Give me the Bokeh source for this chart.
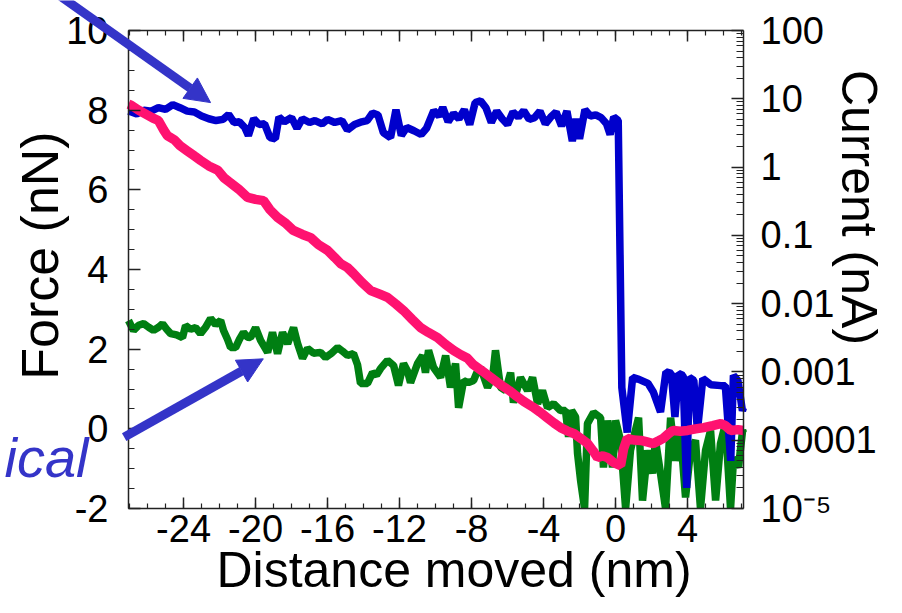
import math
from bokeh.plotting import figure
from bokeh.models import (Range1d, LogScale, LinearAxis, LogAxis, FixedTicker, Arrow,
                          NormalHead, Label, CustomJSTickFormatter)
from bokeh.embed import file_html
from bokeh.resources import INLINE

# ---------------- data ----------------
x_ticks = [-24, -20, -16, -12, -8, -4, 0, 4]
x_labels = ["-24", "-20", "-16", "-12", "-8", "-4", "0", "4"]
force_ticks = [-2, 0, 2, 4, 6, 8, 10]
force_labels = ["-2", "0", "2", "4", "6", "8", "10"]
cur_ticks = [1e-5, 1e-4, 1e-3, 1e-2, 1e-1, 1, 10, 100]
cur_labels = ["10\u207b\u2075", "0.0001", "0.001", "0.01", "0.1", "1", "10", "100"]

# plotted box (data limits of the framed area)
X_MIN, X_MAX = -27.06, 7.11
F_MIN, F_MAX = -2.0, 10.0
C_MIN, C_MAX = 1e-5, 100.0

# current (nA), blue, right log axis
blue_x = [-27.06, -26.9, -26.6, -26.2, -25.8, -25.4, -25.0, -24.6, -24.2, -23.8, -23.4, -23.0,
          -22.6, -22.2, -21.8, -21.5, -21.2, -20.9, -20.6, -20.4, -20.1, -19.8, -19.5, -19.2,
          -18.9, -18.7, -18.4, -18.0, -17.7, -17.4, -17.0, -16.7, -16.3, -16.0, -15.6, -15.2,
          -14.9, -14.5, -14.1, -13.8, -13.5, -13.2, -12.9, -12.5, -12.2, -11.9, -11.6, -11.2,
          -10.8, -10.5, -10.1, -9.8, -9.6, -9.3, -9.0, -8.7, -8.4, -8.1, -7.8, -7.5, -7.2,
          -6.9, -6.6, -6.3, -6.0, -5.7, -5.4, -5.1, -4.8, -4.5, -4.2, -3.9, -3.6, -3.3, -3.0,
          -2.7, -2.4, -2.2, -2.0, -1.7, -1.4, -1.1, -0.8, -0.5, -0.3, -0.1, 0.15,
          0.35, 0.65, 0.95, 1.3, 1.8, 2.1, 2.5, 2.8, 3.1, 3.3, 3.5, 3.75, 3.95, 4.1, 4.35,
          4.55, 4.85, 5.3, 5.85, 6.1, 6.4, 6.55, 6.8, 7.05, 7.11]
blue_y = [6.6, 6.4, 6.0, 6.8, 6.6, 7.4, 7.0, 8.2, 7.4, 6.6, 6.4, 5.6,
          5.1, 4.8, 5.0, 5.9, 4.5, 4.6, 3.8, 2.9, 5.1, 4.2, 4.3, 2.7,
          2.6, 5.4, 4.6, 5.3, 3.7, 5.1, 4.5, 4.8, 4.3, 5.0, 4.5, 4.8,
          3.5, 4.2, 4.6, 4.8, 6.2, 5.8, 3.2, 2.7, 6.9, 2.9, 3.8, 3.4,
          3.0, 3.7, 6.7, 5.6, 7.5, 4.6, 6.1, 5.1, 6.9, 4.2, 8.8, 9.3, 7.4,
          4.5, 6.6, 5.1, 4.2, 6.4, 5.4, 6.7, 5.0, 5.3, 6.6, 4.3, 5.4, 6.4, 4.0,
          6.6, 2.4, 5.1, 2.6, 6.9, 5.6, 5.8, 5.3, 4.3, 3.0, 5.4, 4.8,
          5.9e-4, 1.3e-4, 8.3e-4, 7.8e-4, 6.8e-4, 5.1e-4, 2.6e-4, 1.0e-3, 9.5e-4, 2.2e-4,
          9.5e-4, 8.9e-4, 2.0e-5, 8.3e-4, 7.5e-4, 1.4e-4, 8.0e-4, 6.5e-4, 6.3e-4, 6.3e-4,
          5.0e-5, 8.9e-4, 7.5e-4, 2.7e-4, 3.0e-4]

# normal force (nN), pink
pink_x = [-27.06, -26.9, -26.5, -26.1, -25.7, -25.4, -25.1, -24.9, -24.5, -24.2, -23.8, -23.4,
          -23.06, -22.6, -22.1, -21.75, -21.4, -20.9, -20.44, -20.0, -19.56, -19.2, -18.78,
          -18.3, -17.9, -17.4, -16.94, -16.5, -16.0, -15.6, -15.28, -14.9, -14.56, -14.1,
          -13.6, -13.1, -12.67, -12.2, -11.78, -11.3, -10.83, -10.4, -9.89, -9.45, -9.0,
          -8.6, -8.22, -7.9, -7.4, -6.9, -6.4, -5.9, -5.5, -5.1, -4.6, -4.2, -3.8, -3.4,
          -3.05, -2.7, -2.3, -1.9, -1.55, -1.25, -1.0, -0.7, -0.45, -0.1, 0.28, 0.45, 0.65,
          1.0, 1.4, 1.75, 2.1, 2.4, 2.65, 2.95, 3.2, 3.6, 4.0, 4.45, 4.9, 5.4, 5.85, 6.1,
          6.4, 6.8, 7.11]
pink_y = [8.15, 8.12, 8.0, 7.9, 7.8, 7.74, 7.5, 7.36, 7.25, 7.11, 6.98, 6.85,
          6.74, 6.6, 6.49, 6.3, 6.18, 6.0, 5.81, 5.76, 5.73, 5.5, 5.31,
          5.15, 4.98, 4.88, 4.80, 4.62, 4.48, 4.3, 4.15, 4.05, 3.90, 3.68,
          3.47, 3.38, 3.30, 3.13, 2.97, 2.75, 2.54, 2.42, 2.29, 2.12, 1.97,
          1.86, 1.77, 1.61, 1.45, 1.28, 1.11, 0.96, 0.82, 0.69, 0.55, 0.42, 0.28, 0.14,
          0.03, -0.05, -0.12, -0.25, -0.37, -0.55, -0.72, -0.68, -0.72, -0.85, -0.92, -0.5, -0.24,
          -0.28, -0.29, -0.33, -0.37, -0.3, -0.24, -0.12, -0.04, -0.06, -0.04, 0.0, 0.03, 0.08, 0.13, 0.08,
          -0.04, -0.02, -0.04]

# lateral force (nN), green (values below the axis floor are read as the floor, -2)
green_x = [-27.06, -26.78, -26.5, -26.22, -25.94, -25.67, -25.39, -25.17, -24.94, -24.72, -24.39,
           -24.06, -23.89, -23.61, -23.33, -23.06, -22.78, -22.5, -22.22, -21.94, -21.78, -21.56,
           -21.39, -21.11, -20.89, -20.67, -20.44, -20.28, -20.0, -19.72, -19.5, -19.33, -19.06,
           -18.78, -18.5, -18.22, -17.89, -17.67, -17.39, -17.11, -16.78, -16.39, -16.11, -15.78,
           -15.44, -15.17, -14.89, -14.56, -14.33, -14.17, -13.78, -13.5, -13.28, -13.06, -12.67,
           -12.33, -12.06, -11.78, -11.56, -11.39, -11.0, -10.72, -10.56, -10.39, -10.11, -9.72,
           -9.44, -9.17, -8.89, -8.72, -8.44, -8.17, -7.89, -7.72, -7.5, -7.11, -6.83, -6.67,
           -6.39, -6.11, -5.83, -5.67, -5.28, -4.89, -4.61, -4.33, -4.06, -3.78, -3.44, -3.06,
           -2.78, -2.61, -2.44, -2.22, -2.11, -1.94, -1.72, -1.56, -1.22, -0.83, -0.67, -0.44,
           -0.17, 0.0, 0.28, 0.56, 0.83, 1.28, 1.5, 1.78, 2.06, 2.22, 2.5, 2.78, 3.06, 3.33,
           3.61, 3.89, 4.17, 4.44, 4.72, 5.0, 5.28, 5.56, 5.83, 6.11, 6.39, 6.56, 6.83, 7.06, 7.11]
green_y = [2.72, 2.47, 2.60, 2.64, 2.55, 2.47, 2.55, 2.64, 2.50, 2.39, 2.36,
           2.29, 2.59, 2.50, 2.54, 2.39, 2.55, 2.77, 2.62, 2.72, 2.47, 2.25,
           2.04, 2.04, 2.25, 2.42, 2.30, 2.29, 2.54, 2.22, 2.05, 1.92, 2.42,
           1.89, 2.42, 2.14, 2.54, 2.15, 1.77, 2.02, 1.90, 1.92, 1.79, 1.90,
           2.04, 1.95, 1.84, 1.89, 1.60, 1.14, 1.14, 1.41, 1.35, 1.51, 1.72,
           1.59, 1.09, 1.64, 1.45, 1.16, 1.64, 1.84, 1.41, 1.97, 1.54, 1.29,
           1.84, 1.04, 1.64, 0.53, 1.21, 1.16, 1.21, 1.40, 1.54, 1.04, 1.29, 1.97,
           1.04, 0.96, 1.41, 0.66, 1.29, 0.96, 1.29, 0.63, 0.96, 0.53, 0.63, 0.46,
           0.46, -0.2, 0.46, 0.3, -0.62, -1.3, -2.0, 0.13, 0.41, 0.28, -0.97, 0.21,
           -0.97, 0.21, -0.29, -2.0, -0.54, 0.28, -1.8, -0.54, -1.12, -0.29, -1.12, -2.0, 0.28, -0.8,
           -0.12, -1.72, -0.54, -0.29, -2.0, -0.54, -0.04, -1.8, -0.37, 0.13, -2.0, -0.72, -0.97, -0.04, -0.1]

# ---------------- figure ----------------
FONT = "Liberation Sans"
ARROW = "#3434C8"
W, H = 886, 597
BOX_L, BOX_R, BOX_T, BOX_B = 128, 743, 30, 508   # framed area inside the canvas (px)

sx = (BOX_R - BOX_L) / (X_MAX - X_MIN)
sf = (BOX_B - BOX_T) / (F_MAX - F_MIN)
sc = (BOX_B - BOX_T) / (math.log10(C_MAX) - math.log10(C_MIN))
x_rng = Range1d(X_MIN - BOX_L / sx, X_MAX + (W - BOX_R) / sx)
f_rng = Range1d(F_MIN - (H - BOX_B) / sf, F_MAX + BOX_T / sf)
c_rng = Range1d(10 ** (math.log10(C_MIN) - (H - BOX_B) / sc), 10 ** (math.log10(C_MAX) + BOX_T / sc))

p = figure(width=W, height=H, output_backend="svg", toolbar_location=None,
           x_range=x_rng, y_range=f_rng, x_axis_location=None, y_axis_location=None,
           min_border=0)
p.extra_y_ranges = {"cur": c_rng}
p.extra_y_scales = {"cur": LogScale()}
p.grid.visible = False
p.outline_line_color = None
p.background_fill_color = "white"
p.border_fill_color = "white"

x_minor = list(range(-27, 8))
f_minor = [v / 2 for v in range(-4, 21)]
c_minor = [k * 10.0 ** e for e in range(-5, 2) for k in range(2, 10)]


def style(ax, tick_in, minor_in):
    ax.major_tick_in = tick_in
    ax.major_tick_out = 0
    ax.minor_tick_in = minor_in
    ax.minor_tick_out = 0
    ax.axis_line_color = "#222222"
    ax.axis_line_width = 1.5
    ax.major_tick_line_color = "#222222"
    ax.minor_tick_line_color = "#222222"
    ax.major_tick_line_width = 1.5
    ax.minor_tick_line_width = 1.2
    ax.major_label_text_font = FONT
    ax.major_label_text_font_size = "38px"
    ax.major_label_text_color = "black"


xa = LinearAxis(ticker=FixedTicker(ticks=x_ticks, minor_ticks=x_minor),
                major_label_overrides=dict(zip(x_ticks, x_labels)),
                fixed_location=F_MIN, bounds=(X_MIN, X_MAX))
style(xa, 11, 5)
xa.major_label_standoff = 6
p.add_layout(xa, "below")

ta = LinearAxis(ticker=FixedTicker(ticks=x_ticks, minor_ticks=x_minor),
                formatter=CustomJSTickFormatter(code="return ''"),
                fixed_location=F_MAX, bounds=(X_MIN, X_MAX))
style(ta, 11, 5)
ta.major_label_text_font_size = "0px"
ta.major_label_standoff = 0
p.add_layout(ta, "above")

ya = LinearAxis(ticker=FixedTicker(ticks=force_ticks, minor_ticks=f_minor),
                major_label_overrides=dict(zip(force_ticks, force_labels)),
                fixed_location=X_MIN, bounds=(F_MIN, F_MAX))
style(ya, 12, 6)
ya.major_label_standoff = 20
p.add_layout(ya, "left")

ra = LogAxis(y_range_name="cur", ticker=FixedTicker(ticks=cur_ticks, minor_ticks=c_minor),
             major_label_overrides=dict(zip(cur_ticks, cur_labels)),
             fixed_location=X_MAX, bounds=(C_MIN, C_MAX))
style(ra, 12, 7)
ra.major_label_standoff = 17
p.add_layout(ra, "right")

# ---------------- data lines ----------------
p.line(green_x, green_y, line_color="#007F12", line_width=7.5)
p.line(blue_x, blue_y, y_range_name="cur", line_color="#0000CC", line_width=7.5)
p.line(pink_x, pink_y, line_color="#FF1270", line_width=9.5)

# ---------------- axis titles ----------------
p.add_layout(Label(x=-31.95, y=4.35, text="Force (nN)", angle=math.pi / 2,
                   text_font=FONT, text_font_size="52px", text_color="black",
                   text_align="center", text_baseline="middle"))
p.add_layout(Label(x=13.5, y=5.556, text="Current (nA)", angle=-math.pi / 2,
                   text_font=FONT, text_font_size="50px", text_color="black",
                   text_align="center", text_baseline="middle"))
p.add_layout(Label(x=-8.975, y=-3.545, text="Distance moved (nm)",
                   text_font=FONT, text_font_size="50px", text_color="black",
                   text_align="center", text_baseline="middle"))

# ---------------- annotations ----------------
p.add_layout(Arrow(end=NormalHead(size=25, fill_color=ARROW, line_color=ARROW, line_width=1),
                   x_start=-31.9, y_start=11.2, x_end=-22.5, y_end=8.19,
                   line_color=ARROW, line_width=9))
p.add_layout(Arrow(end=NormalHead(size=25, fill_color=ARROW, line_color=ARROW, line_width=1),
                   x_start=-27.3, y_start=-0.21, x_end=-19.57, y_end=1.757,
                   line_color=ARROW, line_width=9))
p.add_layout(Label(x=-29.28, y=-0.73, text="ical", text_font=FONT, text_font_size="56px",
                   text_font_style="italic", text_color=ARROW, text_align="right",
                   text_baseline="middle"))

open("out.html", "w").write(file_html(p, INLINE))
